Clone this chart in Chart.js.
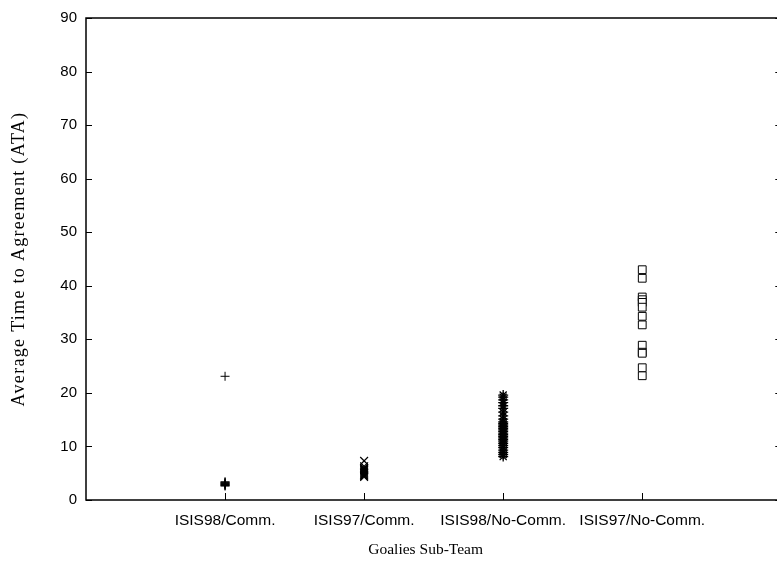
<!DOCTYPE html>
<html>
<head>
<meta charset="utf-8">
<script src="https://cdn.jsdelivr.net/npm/chart.js@4/dist/chart.umd.min.js"></script>
<style>
  html, body { margin: 0; padding: 0; background: #fff; overflow: hidden; }
  #wrap { width: 777px; height: 561px; overflow: hidden; position: relative; }
  #c { position: absolute; left: 0; top: 0; }
</style>
</head>
<body>
<div id="wrap"><canvas id="c" width="788" height="561"></canvas></div>
<script>
// categorías del eje x (posición 1..4)
const categories = ["ISIS98/Comm.", "ISIS97/Comm.", "ISIS98/No-Comm.", "ISIS97/No-Comm."];
const yTicks = [0, 10, 20, 30, 40, 50, 60, 70, 80, 90];

// ATA por equipo
const isis98Comm = [23.1, 3.4, 3.3, 3.2, 3.1, 3.0, 2.9, 2.8, 2.7, 2.6];
const isis97Comm = [7.3, 6.3, 6.0, 5.8, 5.6, 5.5, 5.3, 5.1, 4.9, 4.7, 4.5, 4.3];
const isis98NoComm = [19.6, 19.2, 18.7, 18.2, 17.6, 17.1, 16.4, 15.7, 15.1, 14.6, 14.3, 14.0,
  13.7, 13.4, 13.1, 12.8, 12.5, 12.2, 11.9, 11.6, 11.3, 11.0, 10.6, 10.2, 9.8, 9.3, 8.9, 8.5, 8.1];
const isis97NoComm = [43.0, 41.4, 37.9, 37.4, 36.9, 36.0, 34.3, 32.7, 28.9, 27.6, 27.4, 24.7, 23.2];

const toPoints = (vals, xPos) => vals.map(v => ({ x: xPos, y: v }));

// envuelve drawTitle de una escala para retocar espaciado / posición
function tweakTitle(scale, spacing, dx) {
  if (scale._tweaked) return;
  const orig = scale.drawTitle.bind(scale);
  scale.drawTitle = function () {
    const ctx = this.ctx;
    ctx.save();
    ctx.letterSpacing = spacing;
    ctx.translate(dx, 0);
    orig();
    ctx.restore();
  };
  scale._tweaked = true;
}

// marco y ticks hacia dentro, estilo gnuplot
const framePlugin = {
  id: "frame",
  afterLayout(chart) {
    tweakTitle(chart.scales.y, "1.3px", 0);
    tweakTitle(chart.scales.x, "0px", -8);
  },
  afterDatasetsDraw(chart) {
    const { ctx, chartArea: a, scales } = chart;
    ctx.save();
    ctx.strokeStyle = "#000";
    ctx.lineWidth = 1;
    ctx.beginPath();
    yTicks.forEach(t => {
      const y = Math.round(scales.y.getPixelForValue(t)) + 0.5;
      ctx.moveTo(a.left, y); ctx.lineTo(a.left + 6, y);
      ctx.moveTo(a.right, y); ctx.lineTo(a.right - 6, y);
    });
    categories.forEach((c, i) => {
      const x = Math.round(scales.x.getPixelForValue(i + 1)) + 0.5;
      ctx.moveTo(x, a.bottom); ctx.lineTo(x, a.bottom - 7);
    });
    ctx.stroke();
    ctx.lineWidth = 1.5;
    ctx.strokeRect(a.left, a.top, a.right - a.left, a.bottom - a.top);
    ctx.restore();
  }
};

new Chart(document.getElementById("c"), {
  type: "scatter",
  data: {
    datasets: [
      { label: categories[0], data: toPoints(isis98Comm, 1), pointStyle: "cross", radius: 4.5,
        borderColor: "#000", borderWidth: 1 },
      { label: categories[1], data: toPoints(isis97Comm, 2), pointStyle: "crossRot", radius: 5.5,
        borderColor: "#000", borderWidth: 1.2 },
      { label: categories[2], data: toPoints(isis98NoComm, 3), pointStyle: "star", radius: 5,
        borderColor: "#000", borderWidth: 1.3 },
      { label: categories[3], data: toPoints(isis97NoComm, 4), pointStyle: "rect", radius: 5.5,
        borderColor: "#000", backgroundColor: "#fff", borderWidth: 1 },
      { label: "centro", data: toPoints(isis97NoComm, 4), pointStyle: "circle", radius: 0.8,
        borderColor: "#000", backgroundColor: "#000", borderWidth: 0 }
    ]
  },
  options: {
    responsive: false,
    animation: false,
    layout: { padding: { top: 17, right: 0, left: 0, bottom: 0 } },
    plugins: { legend: { display: false }, tooltip: { enabled: false } },
    scales: {
      x: {
        type: "linear", min: 0, max: 5,
        afterBuildTicks: s => { s.ticks = categories.map((c, i) => ({ value: i + 1 })); },
        afterFit: s => { s.height = 61; },
        grid: { display: false, drawTicks: false },
        border: { display: false },
        ticks: {
          padding: 11, color: "#000", maxRotation: 0, autoSkip: false,
          font: { family: "Liberation Sans, Arial, sans-serif", size: 15.5 },
          callback: v => categories[v - 1] || ""
        },
        title: {
          display: true, text: "Goalies Sub-Team", color: "#000",
          font: { family: "Liberation Serif, Times New Roman, serif", size: 15.5 },
          padding: { top: 0, bottom: 2 }
        }
      },
      y: {
        min: 0, max: 90,
        afterBuildTicks: s => { s.ticks = yTicks.map(v => ({ value: v })); },
        afterFit: s => { s.width = 86; },
        grid: { display: false, drawTicks: false },
        border: { display: false },
        ticks: {
          padding: 9, color: "#000",
          font: { family: "Liberation Sans, Arial, sans-serif", size: 15 }
        },
        title: {
          display: true, text: "Average Time to Agreement (ATA)", color: "#000",
          font: { family: "Liberation Serif, Times New Roman, serif", size: 18 },
          padding: { top: 8, bottom: 0 }
        }
      }
    }
  },
  plugins: [framePlugin]
});
</script>
</body>
</html>
